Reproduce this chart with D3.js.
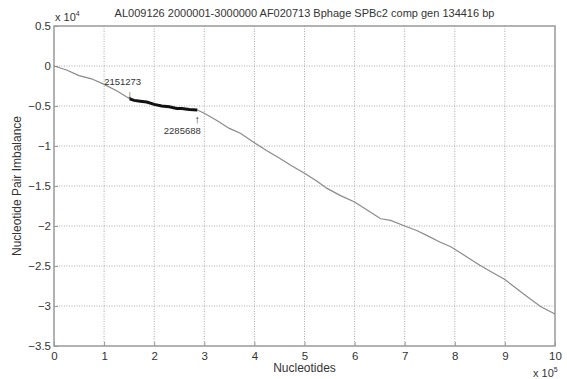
<!DOCTYPE html>
<html>
<head>
<meta charset="utf-8">
<script src="https://cdn.jsdelivr.net/npm/d3@7"></script>
<style>
  body { margin: 0; background: #fff; }
  svg text { font-family: "Liberation Sans", Arial, sans-serif; fill: #333; }
</style>
</head>
<body>
<svg id="chart"></svg>
<script>
// chart size
var width = 567,
    height = 379;

// values (x in 1e5 nucleotides, y in 1e4)
var lineX = [0, 0.25, 0.5, 0.75, 1.0, 1.25, 1.51, 1.6, 1.72, 1.85, 2.0, 2.15, 2.3, 2.45, 2.55, 2.7, 2.86,
  3.0, 3.25, 3.5, 3.72, 4.0, 4.25, 4.52, 4.75, 5.0, 5.25, 5.45, 5.72, 6.0, 6.25, 6.52, 6.72,
  7.0, 7.25, 7.45, 7.7, 7.92, 8.0, 8.25, 8.5, 8.75, 9.0, 9.25, 9.5, 9.72, 10];
var lineY = [0, -0.05, -0.12, -0.16, -0.23, -0.31, -0.41, -0.43, -0.44, -0.45, -0.48, -0.50, -0.51, -0.53, -0.53, -0.545, -0.55,
  -0.59, -0.68, -0.78, -0.84, -0.96, -1.06, -1.16, -1.25, -1.34, -1.44, -1.53, -1.62, -1.70, -1.80, -1.91, -1.93,
  -2.0, -2.06, -2.12, -2.2, -2.26, -2.29, -2.39, -2.49, -2.58, -2.67, -2.79, -2.91, -3.01, -3.10];

// highlighted gene region
var geneStart = 1.51, geneEnd = 2.86;
var geneLabels = ["2151273", "2285688"];

var xTicks = [0, 1, 2, 3, 4, 5, 6, 7, 8, 9, 10];
var yTicks = [0.5, 0, -0.5, -1, -1.5, -2, -2.5, -3, -3.5];

var titleText = "AL009126 2000001-3000000 AF020713 Bphage SPBc2 comp gen 134416 bp";

var margin = {left: 54, right: 12, top: 26, bottom: 33};

var svg = d3.select("#chart")
    .attr("width", width)
    .attr("height", height);

var x = d3.scaleLinear().domain([0, 10]).range([margin.left, width - margin.right]);
var y = d3.scaleLinear().domain([-3.5, 0.5]).range([height - margin.bottom, margin.top]);

// dotted grid
svg.append("g").selectAll("line")
    .data(xTicks.slice(1, -1))
    .enter().append("line")
    .attr("x1", d => x(d)).attr("x2", d => x(d))
    .attr("y1", y(0.5)).attr("y2", y(-3.5))
    .attr("stroke", "#aaa").attr("stroke-dasharray", "1,1.5");

svg.append("g").selectAll("line")
    .data(yTicks.slice(1, -1))
    .enter().append("line")
    .attr("y1", d => y(d)).attr("y2", d => y(d))
    .attr("x1", x(0)).attr("x2", x(10))
    .attr("stroke", "#aaa").attr("stroke-dasharray", "1,1.5");

// axes
var xAxis = svg.append("g")
    .attr("transform", "translate(0," + y(-3.5) + ")")
    .call(d3.axisBottom(x).tickValues(xTicks).tickSize(-4).tickPadding(6).tickFormat(d3.format("d")));
var yAxis = svg.append("g")
    .attr("transform", "translate(" + x(0) + ",0)")
    .call(d3.axisLeft(y).tickValues(yTicks).tickSize(-4).tickPadding(3).tickFormat(d => d === 0 ? "0" : d3.format("")(d)));

[xAxis, yAxis].forEach(function(a) {
  a.selectAll("text").style("font-size", "11.5px").attr("fill", "#333");
  a.selectAll("line").attr("stroke", "#999");
  a.select(".domain").remove();
});

// box
svg.append("rect")
    .attr("x", x(0)).attr("y", y(0.5))
    .attr("width", x(10) - x(0)).attr("height", y(-3.5) - y(0.5))
    .attr("fill", "none").attr("stroke", "#999").attr("stroke-width", 1.5);

// data line
var pts = lineX.map((d, i) => [d, lineY[i]]);
var line = d3.line().x(d => x(d[0])).y(d => y(d[1]));

svg.append("path")
    .datum(pts)
    .attr("d", line)
    .attr("fill", "none")
    .attr("stroke", "#8a8a8a")
    .attr("stroke-width", 1.2);

svg.append("path")
    .datum(pts.filter(d => d[0] >= geneStart && d[0] <= geneEnd))
    .attr("d", line)
    .attr("fill", "none")
    .attr("stroke", "#111")
    .attr("stroke-width", 3);

// gene annotations with thin arrows
var startY = lineY[lineX.indexOf(geneStart)];
var endY = lineY[lineX.indexOf(geneEnd)];
svg.append("text")
    .attr("x", x(geneStart) - 7).attr("y", y(startY) - 14)
    .attr("text-anchor", "middle").style("font-size", "9.5px")
    .text(geneLabels[0]);
svg.append("text")
    .attr("x", x(geneStart)).attr("y", y(startY) - 1)
    .attr("text-anchor", "middle").style("font-size", "11px")
    .text("\u2193");
svg.append("text")
    .attr("x", x(geneEnd) - 15).attr("y", y(endY) + 24)
    .attr("text-anchor", "middle").style("font-size", "9.5px")
    .text(geneLabels[1]);
svg.append("text")
    .attr("x", x(geneEnd)).attr("y", y(endY) + 13)
    .attr("text-anchor", "middle").style("font-size", "11px")
    .text("\u2191");

// title and labels
svg.append("text")
    .attr("x", (x(0) + x(10)) / 2).attr("y", 17)
    .attr("text-anchor", "middle").style("font-size", "11px")
    .text(titleText);

svg.append("text")
    .attr("x", (x(0) + x(10)) / 2).attr("y", 372)
    .attr("text-anchor", "middle").style("font-size", "12px")
    .text("Nucleotides");

svg.append("text")
    .attr("transform", "translate(21," + (y(0.5) + y(-3.5)) / 2 + ") rotate(-90)")
    .attr("text-anchor", "middle").style("font-size", "12px")
    .text("Nucleotide Pair Imbalance");

// exponent labels
var e1 = svg.append("text").attr("x", x(0) + 1).attr("y", 21).style("font-size", "11px");
e1.append("tspan").text("x 10");
e1.append("tspan").attr("dy", -5).style("font-size", "7px").text("4");

var e2 = svg.append("text").attr("x", x(10) - 22).attr("y", 377).style("font-size", "11px");
e2.append("tspan").text("x 10");
e2.append("tspan").attr("dy", -5).style("font-size", "7px").text("5");
</script>
</body>
</html>
